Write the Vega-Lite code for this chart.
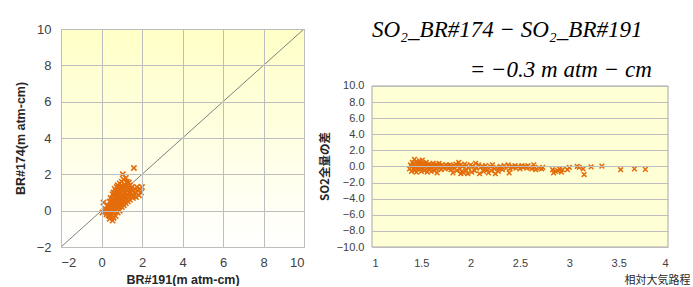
{
  "$schema": "https://vega.github.io/schema/vega-lite/v6.json",
  "padding": {"left": 13, "top": 19, "right": 0, "bottom": 0},
  "background": "white",
  "spacing": 12,
  "config": {
    "font": "Liberation Sans",
    "view": {"stroke": "#a6a6a6", "strokeWidth": 1},
    "axis": {"domain": false, "ticks": false, "labelOverlap": false, "gridColor": "#bdbdbd", "gridWidth": 1, "labelColor": "#404040", "titleColor": "#262626", "titleFontWeight": "bold"}
  },
  "datasets": {
    "left": [
      {"x":0.05,"y":-0.1},{"x":0.1,"y":0.45},{"x":0.15,"y":0.0},{"x":0.2,"y":0.1},{"x":0.25,"y":-0.2},{"x":0.3,"y":0.3},{"x":0.3,"y":-0.1},{"x":0.35,"y":0.2},{"x":0.4,"y":0.5},{"x":0.4,"y":0.0},
      {"x":0.4,"y":-0.3},{"x":0.45,"y":0.3},{"x":0.45,"y":0.7},{"x":0.5,"y":0.1},{"x":0.5,"y":-0.2},{"x":0.5,"y":0.6},{"x":0.55,"y":-0.55},{"x":0.55,"y":0.4},{"x":0.55,"y":0.9},{"x":0.6,"y":0.2},
      {"x":0.6,"y":0.7},{"x":0.6,"y":-0.1},{"x":0.6,"y":1.0},{"x":0.65,"y":0.5},{"x":0.65,"y":0.0},{"x":0.65,"y":1.2},{"x":0.7,"y":0.3},{"x":0.7,"y":0.8},{"x":0.7,"y":-0.3},{"x":0.7,"y":1.1},
      {"x":0.75,"y":0.6},{"x":0.75,"y":0.1},{"x":0.75,"y":1.3},{"x":0.8,"y":0.4},{"x":0.8,"y":0.9},{"x":0.8,"y":-0.1},{"x":0.8,"y":1.4},{"x":0.85,"y":0.7},{"x":0.85,"y":0.2},{"x":0.85,"y":1.1},
      {"x":0.9,"y":0.5},{"x":0.9,"y":1.0},{"x":0.9,"y":0.0},{"x":0.9,"y":1.5},{"x":0.95,"y":0.8},{"x":0.95,"y":0.3},{"x":0.95,"y":1.3},{"x":1.0,"y":0.6},{"x":1.0,"y":1.1},{"x":1.0,"y":0.2},
      {"x":1.0,"y":1.6},{"x":1.05,"y":2.0},{"x":1.05,"y":0.9},{"x":1.05,"y":0.4},{"x":1.1,"y":0.7},{"x":1.1,"y":1.2},{"x":1.1,"y":1.7},{"x":1.1,"y":0.3},{"x":1.15,"y":1.0},{"x":1.15,"y":0.5},
      {"x":1.15,"y":1.4},{"x":1.2,"y":0.8},{"x":1.2,"y":1.3},{"x":1.2,"y":0.4},{"x":1.2,"y":1.8},{"x":1.25,"y":1.1},{"x":1.25,"y":0.6},{"x":1.3,"y":0.9},{"x":1.3,"y":1.5},{"x":1.3,"y":0.5},
      {"x":1.35,"y":1.2},{"x":1.35,"y":0.8},{"x":1.4,"y":1.0},{"x":1.4,"y":1.4},{"x":1.4,"y":0.6},{"x":1.45,"y":1.2},{"x":1.5,"y":0.9},{"x":1.5,"y":1.3},{"x":1.55,"y":1.1},{"x":1.6,"y":2.35},
      {"x":1.6,"y":0.8},{"x":1.65,"y":1.2},{"x":1.7,"y":1.0},{"x":1.75,"y":1.3},{"x":1.8,"y":1.1},{"x":1.85,"y":0.85},{"x":1.9,"y":1.2},{"x":2.0,"y":1.3},{"x":0.5,"y":0.35},{"x":0.6,"y":0.45},
      {"x":0.7,"y":0.55},{"x":0.8,"y":0.65},{"x":0.9,"y":0.75},{"x":1.0,"y":0.85},{"x":0.75,"y":0.35},{"x":0.85,"y":0.45},{"x":0.95,"y":0.55},{"x":1.05,"y":0.65},{"x":1.15,"y":0.75},{"x":1.25,"y":0.85},
      {"x":0.55,"y":0.15},{"x":0.65,"y":0.25},{"x":0.45,"y":-0.05},{"x":0.35,"y":-0.25},{"x":0.4,"y":-0.45},{"x":0.6,"y":-0.4},{"x":0.3,"y":0.05},{"x":1.35,"y":1.55},{"x":1.25,"y":1.6},{"x":1.0,"y":1.35},
      {"x":0.85,"y":1.25},{"x":0.7,"y":0.95},{"x":1.45,"y":0.8},{"x":1.55,"y":0.7},{"x":1.7,"y":0.75},{"x":1.95,"y":1.0}
    ],
    "right": [
      {"x":1.38,"y":-0.3},{"x":1.39,"y":0.2},{"x":1.4,"y":-0.6},{"x":1.4,"y":0.0},{"x":1.41,"y":0.5},{"x":1.42,"y":-0.2},{"x":1.42,"y":0.3},{"x":1.43,"y":0.9},{"x":1.43,"y":-0.5},{"x":1.44,"y":0.1},
      {"x":1.44,"y":-0.1},{"x":1.45,"y":0.6},{"x":1.45,"y":-0.7},{"x":1.46,"y":0.2},{"x":1.46,"y":-0.3},{"x":1.47,"y":0.0},{"x":1.47,"y":0.4},{"x":1.48,"y":-0.4},{"x":1.48,"y":0.7},{"x":1.49,"y":-0.1},
      {"x":1.5,"y":0.3},{"x":1.5,"y":-0.6},{"x":1.5,"y":0.1},{"x":1.51,"y":0.8},{"x":1.52,"y":-0.2},{"x":1.52,"y":0.4},{"x":1.53,"y":-0.5},{"x":1.53,"y":0.0},{"x":1.54,"y":0.2},{"x":1.55,"y":-0.3},
      {"x":1.55,"y":0.5},{"x":1.56,"y":-0.7},{"x":1.56,"y":0.1},{"x":1.57,"y":-0.1},{"x":1.58,"y":0.3},{"x":1.58,"y":-0.4},{"x":1.59,"y":0.0},{"x":1.6,"y":0.2},{"x":1.6,"y":-0.6},{"x":1.61,"y":-0.2},
      {"x":1.62,"y":0.4},{"x":1.62,"y":0.0},{"x":1.63,"y":-0.5},{"x":1.64,"y":0.1},{"x":1.65,"y":-0.3},{"x":1.65,"y":0.3},{"x":1.66,"y":-0.8},{"x":1.67,"y":0.0},{"x":1.68,"y":0.4},{"x":1.68,"y":-0.2},
      {"x":1.69,"y":0.1},{"x":1.7,"y":-0.4},{"x":1.71,"y":0.2},{"x":1.72,"y":-0.1},{"x":1.73,"y":0.0},{"x":1.74,"y":-0.3},{"x":1.75,"y":0.2},{"x":1.76,"y":-0.1},{"x":1.77,"y":0.1},{"x":1.78,"y":-0.2},
      {"x":1.79,"y":0.2},{"x":1.8,"y":-0.4},{"x":1.81,"y":0.0},{"x":1.82,"y":-0.8},{"x":1.83,"y":0.1},{"x":1.84,"y":-0.2},{"x":1.85,"y":0.3},{"x":1.86,"y":-0.5},{"x":1.87,"y":0.1},{"x":1.88,"y":0.5},
      {"x":1.89,"y":-0.3},{"x":1.9,"y":-0.9},{"x":1.9,"y":0.2},{"x":1.91,"y":-0.6},{"x":1.92,"y":0.0},{"x":1.93,"y":-0.8},{"x":1.94,"y":0.3},{"x":1.95,"y":-0.4},{"x":1.96,"y":0.1},{"x":1.97,"y":-0.9},
      {"x":1.98,"y":-0.2},{"x":2.0,"y":0.2},{"x":2.01,"y":-0.7},{"x":2.02,"y":0.0},{"x":2.04,"y":-0.5},{"x":2.05,"y":0.4},{"x":2.06,"y":-0.2},{"x":2.08,"y":0.2},{"x":2.09,"y":-0.9},{"x":2.1,"y":-0.1},
      {"x":2.12,"y":0.0},{"x":2.13,"y":-0.6},{"x":2.14,"y":-0.3},{"x":2.15,"y":0.1},{"x":2.17,"y":-0.4},{"x":2.18,"y":-0.8},{"x":2.2,"y":0.0},{"x":2.21,"y":-0.5},{"x":2.22,"y":0.2},{"x":2.24,"y":-0.3},
      {"x":2.25,"y":-0.9},{"x":2.26,"y":-0.1},{"x":2.28,"y":-0.6},{"x":2.29,"y":-0.2},{"x":2.3,"y":0.0},{"x":2.32,"y":-0.4},{"x":2.34,"y":0.1},{"x":2.36,"y":-0.2},{"x":2.38,"y":0.2},{"x":2.39,"y":-0.8},
      {"x":2.4,"y":-0.3},{"x":2.42,"y":0.0},{"x":2.43,"y":-0.1},{"x":2.45,"y":0.1},{"x":2.46,"y":-0.2},{"x":2.48,"y":0.0},{"x":2.5,"y":-0.3},{"x":2.52,"y":0.1},{"x":2.53,"y":-0.1},{"x":2.55,"y":0.0},
      {"x":2.57,"y":-0.2},{"x":2.58,"y":0.1},{"x":2.6,"y":-0.1},{"x":2.62,"y":-0.3},{"x":2.64,"y":0.2},{"x":2.65,"y":-0.1},{"x":2.66,"y":-0.4},{"x":2.7,"y":-0.2},{"x":2.72,"y":-0.3},{"x":2.73,"y":-0.1},
      {"x":2.83,"y":-0.4},{"x":2.84,"y":-0.8},{"x":2.86,"y":-0.6},{"x":2.88,"y":-0.5},{"x":2.9,"y":-0.3},{"x":2.92,"y":-0.7},{"x":2.93,"y":-0.4},{"x":2.98,"y":-0.4},{"x":3.0,"y":-0.1},{"x":3.08,"y":0.0},
      {"x":3.1,"y":-0.1},{"x":3.14,"y":-0.3},{"x":3.15,"y":-1.0},{"x":3.22,"y":-0.05},{"x":3.33,"y":0.05},{"x":3.52,"y":-0.4},{"x":3.66,"y":-0.3},{"x":3.77,"y":-0.35}
    ]
  },
  "hconcat": [
    {
      "width": 243,
      "height": 218,
      "encoding": {
        "x": {"field": "x", "type": "quantitative", "scale": {"domain": [-2, 10], "nice": false},
          "axis": {"values": [-2, 0, 2, 4, 6, 8, 10], "zindex": 1, "title": "BR#191(m atm-cm)", "labelFontSize": 13, "labelPadding": 9, "titleFontSize": 12.5, "titlePadding": 4}},
        "y": {"field": "y", "type": "quantitative", "scale": {"domain": [-2, 10], "nice": false},
          "axis": {"values": [-2, 0, 2, 4, 6, 8, 10], "zindex": 1, "title": "BR#174(m atm-cm)", "labelFontSize": 13, "labelPadding": 10, "titleFontSize": 12.5, "titlePadding": 9}}
      },
      "layer": [
        {
          "data": {"values": [{"x": -2, "x2": 10, "y": -2, "y2": 10}]},
          "mark": {"type": "rect", "fill": {"gradient": "linear", "x1": 0, "y1": 0, "x2": 0, "y2": 1, "stops": [{"offset": 0, "color": "#FFFFC6"}, {"offset": 1, "color": "#FFFFFF"}]}},
          "encoding": {"x2": {"field": "x2"}, "y2": {"field": "y2"}}
        },
        {
          "data": {"values": [{"x": -2, "y": -2}, {"x": 10, "y": 10}]},
          "mark": {"type": "line", "color": "#7f7f7f", "strokeWidth": 1},
          "encoding": {}
        },
        {
          "data": {"name": "left"},
          "mark": {"type": "point", "shape": "M-1,-1L1,1M-1,1L1,-1", "filled": false, "stroke": "#E46C0A", "strokeWidth": 1.6, "size": 28, "opacity": 1},
          "encoding": {}
        }
      ]
    },
    {
      "width": 296,
      "height": 218,
      "view": {"stroke": null},
      "title": {
        "text": "SO₂_BR#174  − SO₂_BR#191",
        "subtitle": "\u200b\u00a0\u00a0\u00a0\u00a0\u00a0\u00a0\u00a0\u00a0\u00a0\u00a0\u00a0\u00a0\u00a0\u00a0\u00a0\u00a0\u00a0= −0.3 m atm − cm",
        "anchor": "start",
        "frame": "group",
        "font": "Liberation Serif",
        "fontStyle": "italic",
        "fontWeight": "normal",
        "fontSize": 23,
        "color": "#000000",
        "subtitleFont": "Liberation Serif",
        "subtitleFontStyle": "italic",
        "subtitleFontSize": 23,
        "subtitleColor": "#000000",
        "subtitlePadding": 17,
        "offset": -53
      },
      "encoding": {
        "x": {"field": "x", "type": "quantitative", "scale": {"domain": [1, 4], "nice": false},
          "axis": {"values": [1, 1.5, 2, 2.5, 3, 3.5, 4], "format": "~g", "grid": false, "zindex": 1, "labelFontSize": 11, "labelPadding": 10, "title": "相対大気路程", "titleFont": "Noto Sans CJK JP", "titleFontSize": 11, "titleFontWeight": "normal", "titleAnchor": "end", "titleAlign": "right", "titleX": 318, "titleY": 33, "titleBaseline": "middle"}},
        "y": {"field": "y", "type": "quantitative", "scale": {"domain": [-10, 17.08], "nice": false},
          "axis": {"values": [-10, -8, -6, -4, -2, 0, 2, 4, 6, 8, 10], "format": ".1f", "zindex": 1, "labelFontSize": 11, "labelPadding": 8, "title": "SO2全量の差", "titleFont": "Noto Sans CJK JP", "titleFontSize": 11.5, "titlePadding": 6, "titleY": 137}}
      },
      "layer": [
        {
          "data": {"values": [{"x": 1, "x2": 4, "y": -10, "y2": 10}]},
          "mark": {"type": "rect", "fill": "#FFFFD6", "stroke": "#a6a6a6", "strokeWidth": 1},
          "encoding": {"x2": {"field": "x2"}, "y2": {"field": "y2"}}
        },
        {
          "data": {"name": "right"},
          "mark": {"type": "point", "shape": "M-1,-1L1,1M-1,1L1,-1", "filled": false, "stroke": "#E46C0A", "strokeWidth": 1.5, "size": 22, "opacity": 1},
          "encoding": {}
        }
      ]
    }
  ]
}
